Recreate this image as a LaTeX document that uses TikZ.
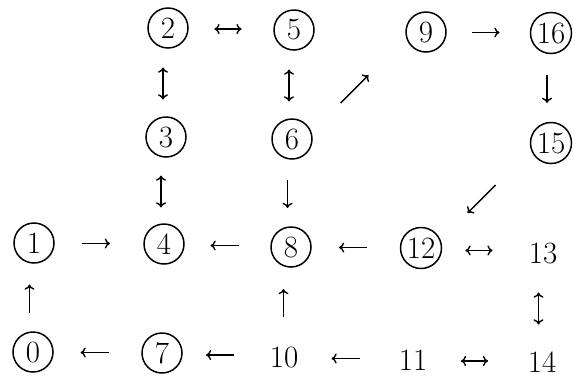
\documentclass[tikz,border=0pt]{standalone}
\usetikzlibrary{calc,arrows.meta}
\tikzset{
  numfont/.style={font=\fontsize{15.5}{18}\selectfont},
  cnum/.style={numfont, circle, draw, line width=0.75pt, minimum size=20pt, inner sep=0pt},
  cnumw/.style={cnum, minimum size=20.5pt},
  pnum/.style={numfont, inner sep=1pt},
  cmtip/.tip={Computer Modern Rightarrow[width=5pt,length=2.6pt]},
  arr/.style={line width=0.7pt, -cmtip},
  darr/.style={line width=0.7pt, cmtip-cmtip},
}
% horizontal connector: #1 style, #2 from, #3 to, #4 half length
\newcommand\hcnx[4]{%
  \path (#2.center) -- coordinate[midway] (mid0) (#3.center);
  \coordinate (mid) at ($(mid0)+(-3,0)$);
  \draw[#1] ($(mid)!#4!(mid-|#2.center)$) -- ($(mid)!#4!(mid-|#3.center)$);}
% vertical connector
\newcommand\vcnx[4]{%
  \path (#2.center) -- coordinate[midway] (mid0) (#3.center);
  \coordinate (mid) at ($(mid0)+(-4,1)$);
  \draw[#1] ($(mid)!#4!(mid|-#2.center)$) -- ($(mid)!#4!(mid|-#3.center)$);}
% diagonal connector at 45 degrees: #4 = half vector (px) towards #3
\newcommand\dcnx[4]{%
  \path (#2.center) -- coordinate[midway] (mid0) (#3.center);
  \coordinate (mid) at ($(mid0)+(-4.5,3.5)$);
  \draw[#1] ($(mid)-(#4)$) -- ($(mid)+(#4)$);}
\begin{document}
\begin{tikzpicture}[x=0.5pt,y=-0.5pt]
\useasboundingbox[fill=white] (0,0) rectangle (577,376);
% row 1
\node[cnum]  (n2)  at (168,28)  {2};
\node[cnum]  (n5)  at (294,30)  {5};
\node[cnum]  (n9)  at (426,32)  {9};
\node[cnumw] (n16) at (551,33)  {16};
% row 2
\node[cnum]  (n3)  at (166,137) {3};
\node[cnum]  (n6)  at (292,139) {6};
\node[cnumw] (n15) at (551,143) {15};
% row 3
\node[cnum]  (n1)  at (34,243)  {1};
\node[cnum]  (n4)  at (164,244) {4};
\node[cnum]  (n8)  at (291,247) {8};
\node[cnumw] (n12) at (421,248) {12};
\node[pnum]  (n13) at (543,253) {13};
% row 4
\node[cnum]  (n0)  at (33,352)  {0};
\node[cnum]  (n7)  at (162,353) {7};
\node[pnum]  (n10) at (284,357) {10};
\node[pnum]  (n11) at (413,360) {11};
\node[pnum]  (n14) at (542,362) {14};
% connectors
\hcnx{darr}{n2}{n5}{6.8pt}
\hcnx{arr}{n9}{n16}{7pt}
\vcnx{darr}{n2}{n3}{8pt}
\vcnx{darr}{n5}{n6}{8pt}
\dcnx{arr}{n6}{n9}{14,-14}
\vcnx{arr}{n16}{n15}{7pt}
\vcnx{darr}{n3}{n4}{8pt}
\vcnx{arr}{n6}{n8}{7pt}
\dcnx{arr}{n15}{n12}{-14,14}
\hcnx{arr}{n1}{n4}{7pt}
\hcnx{arr}{n8}{n4}{7pt}
\hcnx{arr}{n12}{n8}{7pt}
\hcnx{darr}{n12}{n13}{6.8pt}
\vcnx{arr}{n0}{n1}{7pt}
\vcnx{arr}{n10}{n8}{7pt}
\vcnx{darr}{n13}{n14}{8pt}
\hcnx{arr}{n7}{n0}{7pt}
\hcnx{arr}{n10}{n7}{7pt}
\hcnx{arr}{n11}{n10}{7pt}
\hcnx{darr}{n11}{n14}{6.8pt}
\end{tikzpicture}
\end{document}
